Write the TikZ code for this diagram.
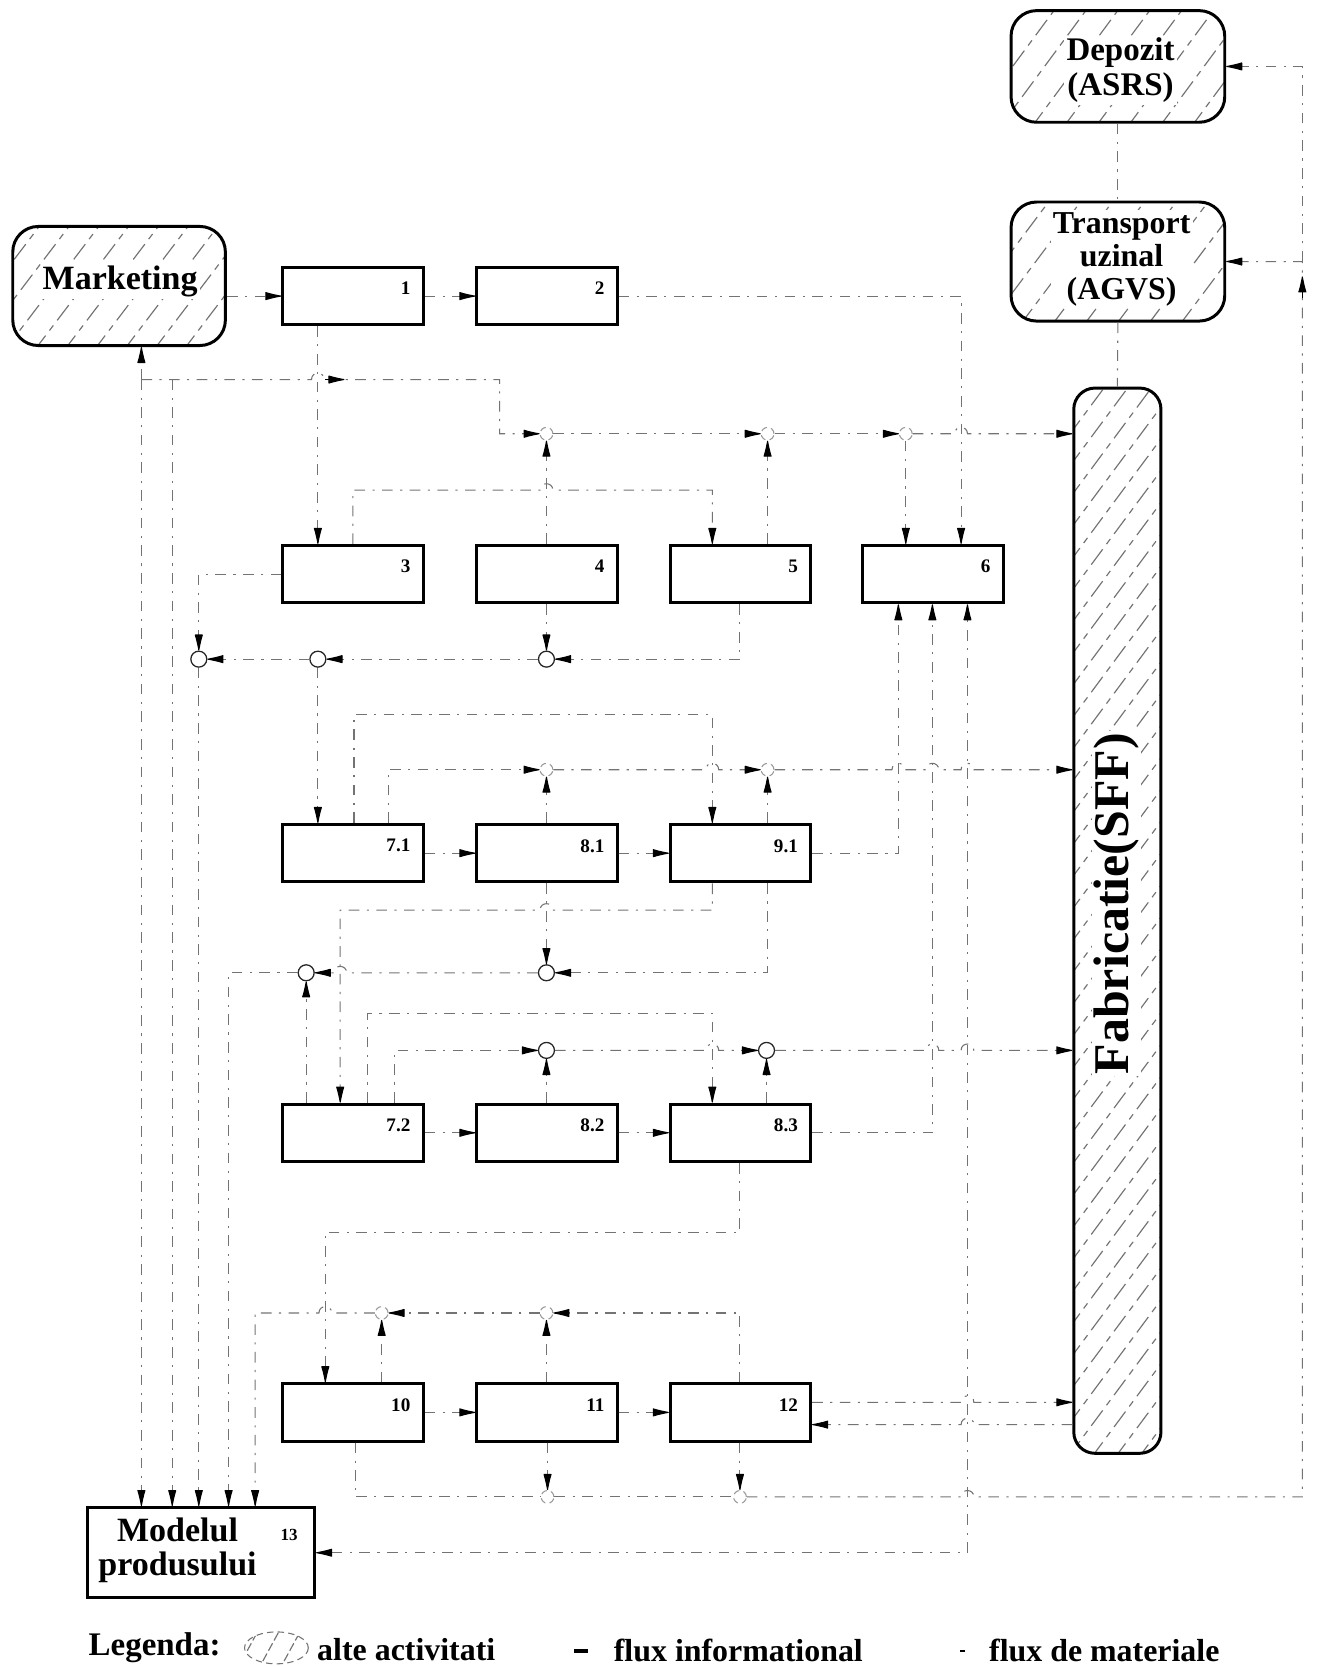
\documentclass[tikz,border=0pt]{standalone}
\usepackage{fontspec}
\setmainfont{Liberation Serif}
\usetikzlibrary{arrows.meta}
\begin{document}
\begin{tikzpicture}[x=0.5pt,y=-0.5pt,
  box/.style={draw, line width=1.4pt, minimum width=66pt, minimum height=27pt, inner sep=0pt,
              label={[num]north east:#1}},
  num/.style={font=\fontsize{9}{10}\selectfont\bfseries, anchor=north east, inner sep=0pt, xshift=-6.5pt, yshift=-7.5pt},
  other/.style={draw, line width=1.4pt, rounded corners=12pt, inner sep=0pt},
  bigtxt/.style={font=\fontsize{16}{16}\selectfont\bfseries},
  fl/.style={draw=black!55, line width=0.5pt, dash pattern=on 5pt off 3.5pt on 1pt off 3.5pt},
  tip/.style={-{Latex[length=9pt,width=4pt,round,color=black]}},
  mk/.style={draw=black, line width=0.5pt, -{Latex[length=9pt,width=4pt,round]}},
  hatch/.style={draw=black!55, line width=0.55pt, dash pattern=on 9pt off 3pt on 3pt off 3pt},
  jn/.style={circle, draw=black!85, line width=0.6pt, fill=white, minimum size=7.5pt, inner sep=0pt},
  jw/.style={circle, draw=black!40, line width=0.5pt, densely dashed, fill=white, minimum size=6pt, inner sep=0pt},
  hopr/.style args={#1/#2}{insert path={-- (#1-6,#2) .. controls (#1-6,#2-8) and (#1+6,#2-8) .. (#1+6,#2)}},
  hopl/.style args={#1/#2}{insert path={-- (#1+6,#2) .. controls (#1+6,#2-8) and (#1-6,#2-8) .. (#1-6,#2)}},
]
\useasboundingbox (0,0) rectangle (1242,1568);

% ---------- hatching of the other activities ----------
\begin{scope}
  \clip[rounded corners=12pt] (12,213) rectangle (212,325);
  \foreach \x in {-80,-52,...,230} \draw[hatch] (\x,330) -- ++(95,-125);
\end{scope}
\begin{scope}
  \clip[rounded corners=12pt] (951,10) rectangle (1152,115);
  \foreach \x in {880,910,...,1160} \draw[hatch] (\x,120) -- ++(85,-115);
\end{scope}
\begin{scope}
  \clip[rounded corners=12pt] (951,190) rectangle (1152,302);
  \foreach \x in {870,900,...,1160} \draw[hatch] (\x,305) -- ++(90,-120);
\end{scope}
\begin{scope}
  \clip[rounded corners=10pt] (1010,365) rectangle (1092,1367);
  \foreach \y in {380,410,...,1500} \draw[hatch] (1005,\y) -- ++(95,-128);
\end{scope}

% ---------- other activities ----------
\node[other, minimum width=100pt, minimum height=56pt] (mkt) at (112,269) {};
\node[other, minimum width=100.5pt, minimum height=52.5pt] (dep) at (1051.5,62.5) {};
\node[other, minimum width=100.5pt, minimum height=56pt] (agv) at (1051.5,246) {};
\node[other, rounded corners=10pt, minimum width=41pt, minimum height=501pt] (sff) at (1051,866) {};

\node[bigtxt, fill=white, inner sep=1pt] (tmkt) at (113,265) {Marketing};
\node[font=\fontsize{15.5}{16.5}\selectfont\bfseries, align=center, fill=white, inner sep=1pt] (tdep) at (1054,66) {Depozit\\(ASRS)};
\node[font=\fontsize{15}{15.5}\selectfont\bfseries, align=center, fill=white, inner sep=1pt] (tagv) at (1055,244) {Transport\\uzinal\\(AGVS)};
\node[rotate=90, font=\fontsize{23.5}{24}\selectfont\bfseries, fill=white, inner sep=1pt] (tsff) at (1050,850) {Fabricatie(SFF)};

% ---------- activity boxes ----------
\node[box=1] (b1) at (332,278.5) {};
\node[box=2] (b2) at (514.5,278.5) {};
\node[box=3] (b3) at (332,540) {};
\node[box=4] (b4) at (514.5,540) {};
\node[box=5] (b5) at (696.5,540) {};
\node[box=6] (b6) at (877.5,540) {};
\node[box=7.1] (b71) at (332,802.5) {};
\node[box=8.1] (b81) at (514.5,802.5) {};
\node[box=9.1] (b91) at (696.5,802.5) {};
\node[box=7.2] (b72) at (332,1065.5) {};
\node[box=8.2] (b82) at (514.5,1065.5) {};
\node[box=8.3] (b83) at (696.5,1065.5) {};
\node[box=10] (b10) at (332,1328.5) {};
\node[box=11] (b11) at (514.5,1328.5) {};
\node[box=12] (b12) at (696.5,1328.5) {};
\node[draw, line width=1.4pt, minimum width=107pt, minimum height=42.5pt, inner sep=0pt] (b13) at (189,1460.5) {};
\node[align=center, bigtxt] (t13) at (167,1458) {Modelul\\produsului};
\node[font=\fontsize{8}{9}\selectfont\bfseries] (n13) at (272,1444) {13};

% ---------- junction circles ----------
\node[jn] (ja1) at (187,620) {};
\node[jn] (ja2) at (299,620) {};
\node[jn] (ja3) at (514,620) {};
\node[jw] (jb1) at (514,408) {};
\node[jw] (jb2) at (722,408) {};
\node[jw] (jb3) at (852,408) {};
\node[jw] (jc1) at (514,724) {};
\node[jw] (jc2) at (722,724) {};
\node[jn] (jd1) at (288,915) {};
\node[jn] (jd2) at (514,915) {};
\node[jn] (je1) at (514,988) {};
\node[jn] (je2) at (721,988) {};
\node[jw] (jf1) at (359,1235) {};
\node[jw] (jf2) at (514,1235) {};
\node[jw] (jg1) at (515,1408) {};
\node[jw] (jg2) at (696,1408) {};

% ---------- top rows ----------
\draw[fl,tip] (mkt.east |- b1.west) -- (b1.west);
\draw[fl,tip] (b1.east) -- (b2.west);
\draw[fl,tip] (b2.east) -- (904,278.5) -- (904,0 |- b6.north);
\draw[fl,tip] (133,357) -- (133,0 |- mkt.south);
\draw[fl,tip] (133,357) -- (133,0 |- b13.north);
\draw[fl,tip] (162,357) -- (162,0 |- b13.north);
\draw[fl,tip] (133,357) [hopr=299/357] -- (470,357) -- (470,408) -- (jb1.west);
\draw[mk] (306,357) -- (324,357);
\draw[fl,tip] (jb1.east) -- (jb2.west);
\draw[fl,tip] (jb2.east) -- (jb3.west);
\draw[fl,tip] (jb3.east) [hopr=904/408] -- (sff.west |- jb3.east);
\draw[fl,tip] (514,0 |- b4.north) -- (jb1.south);
\draw[fl,tip] (722,0 |- b5.north) -- (jb2.south);
\draw[fl,tip] (jb3.south) -- (852,0 |- b6.north);
\draw[fl,tip] (299,0 |- b1.south) -- (299,0 |- b3.north);
\draw[fl,tip] (b3.north) -- (332,461) [hopr=514/461] -- (670,461) -- (670,0 |- b5.north);

% ---------- below row 3-6 ----------
\draw[fl,tip] (b3.west) -- (187,540) -- (ja1.north);
\draw[fl,tip] (696,0 |- b5.south) -- (696,620) -- (ja3.east);
\draw[fl,tip] (514,0 |- b4.south) -- (ja3.north);
\draw[fl,tip] (ja3.west) -- (ja2.east);
\draw[fl,tip] (ja2.west) -- (ja1.east);
\draw[fl,tip] (ja2.south) -- (299,0 |- b71.north);
\draw[fl,tip] (ja1.south) -- (187,0 |- b13.north);

% ---------- row 7.1 - 9.1 ----------
\draw[fl,tip] (b71.east) -- (b81.west);
\draw[fl,tip] (b81.east) -- (b91.west);
\draw[fl,tip] (333,0 |- b71.north) -- (333,672) -- (670,672) -- (670,0 |- b91.north);
\draw[fl,tip] (365,0 |- b71.north) -- (365,724) -- (jc1.west);
\draw[fl,tip] (jc1.east) [hopr=670/724] -- (jc2.west);
\draw[fl,tip] (jc2.east) [hopr=845/724] [hopr=877/724] [hopr=910/724] -- (sff.west |- jc2.east);
\draw[fl,tip] (514,0 |- b81.north) -- (jc1.south);
\draw[fl,tip] (722,0 |- b91.north) -- (jc2.south);

% ---------- feeds of box 6 and of the model ----------
\draw[fl,tip] (b91.east) -- (845,802.5) -- (845,0 |- b6.south);
\draw[fl,tip] (b83.east) -- (877,1065.5) -- (877,0 |- b6.south);
\draw[fl,{Latex[length=9pt,width=4pt,round,color=black]}-{Latex[length=9pt,width=4pt,round,color=black]}]
  (b13.east) -- (910,0 |- b13.east) -- (910,0 |- b6.south);

% ---------- between rows 7.1 and 7.2 ----------
\draw[fl,tip] (670,0 |- b91.south) -- (670,856) [hopl=514/856] -- (320,856) -- (320,0 |- b72.north);
\draw[fl,tip] (514,0 |- b81.south) -- (jd2.north);
\draw[fl,tip] (722,0 |- b91.south) -- (722,915) -- (jd2.east);
\draw[fl,tip] (jd2.west) [hopl=320/915] -- (jd1.east);
\draw[fl,tip] (288,0 |- b72.north) -- (jd1.south);
\draw[fl,tip] (jd1.west) -- (215,915) -- (215,0 |- b13.north);

% ---------- row 7.2 - 8.3 ----------
\draw[fl,tip] (b72.east) -- (b82.west);
\draw[fl,tip] (b82.east) -- (b83.west);
\draw[fl,tip] (346,0 |- b72.north) -- (346,953) -- (670,953) -- (670,0 |- b83.north);
\draw[fl,tip] (371,0 |- b72.north) -- (371,988) -- (je1.west);
\draw[fl,tip] (je1.east) [hopr=670/988] -- (je2.west);
\draw[fl,tip] (je2.east) [hopr=877/988] [hopr=910/988] -- (sff.west |- je2.east);
\draw[fl,tip] (514,0 |- b82.north) -- (je1.south);
\draw[fl,tip] (721,0 |- b83.north) -- (je2.south);

% ---------- between rows 7.2 and 10 ----------
\draw[fl,tip] (696,0 |- b83.south) -- (696,1159) -- (306,1159) -- (306,0 |- b10.north);
\draw[fl,tip] (696,0 |- b12.north) -- (696,1235) -- (jf2.east);
\draw[fl,tip] (jf2.west) -- (jf1.east);
\draw[fl,tip] (jf1.west) [hopl=306/1235] -- (240,1235) -- (240,0 |- b13.north);
\draw[fl,tip] (514,0 |- b11.north) -- (jf2.south);
\draw[fl,tip] (359,0 |- b10.north) -- (jf1.south);

% ---------- row 10 - 12 ----------
\draw[fl,tip] (b10.east) -- (b11.west);
\draw[fl,tip] (b11.east) -- (b12.west);
\draw[fl] (334,0 |- b10.south) -- (334,1408) -- (jg1.west);
\draw[fl,tip] (515,0 |- b11.south) -- (jg1.north);
\draw[fl,tip] (696,0 |- b12.south) -- (jg2.north);
\draw[fl] (jg1.east) -- (jg2.west);
\draw[fl,tip] (jg2.east) [hopr=910/1408] -- (1225,1408) -- (1225,0 |- agv.east) -- (agv.east);
\draw[fl,tip] (1225,0 |- agv.east) -- (1225,0 |- dep.east) -- (dep.east);
\draw[mk] (1225,280) -- (1225,260);
\draw[fl,tip] (b12.east |- 0,1319) [hopr=910/1319] -- (sff.west |- 0,1319);
\draw[fl,tip] (sff.west |- 0,1340) [hopl=910/1340] -- (b12.east |- 0,1340);

% ---------- material flow ----------
\draw[fl] (dep.south) -- (agv.north);
\draw[fl] (agv.south) -- (sff.north);

% ---------- legend ----------
\node[anchor=west, font=\fontsize{15.5}{16}\selectfont\bfseries, inner sep=0pt] (lg) at (83,1550) {Legenda:};
\begin{scope}
  \clip (260,1550) ellipse [x radius=30, y radius=15];
  \foreach \x in {222,242,262,282} \draw[hatch, dash pattern=on 4pt off 1.5pt] (\x,1572) -- ++(24,-44);
\end{scope}
\draw[black!55, line width=0.5pt, dash pattern=on 3pt off 2pt] (260,1550) ellipse [x radius=30, y radius=15];
\node[anchor=west, font=\fontsize{15}{16}\selectfont\bfseries, inner sep=0pt] (lg1) at (298,1552) {alte activitati};
\draw[line width=1.6pt] (540,1553) -- (553,1553);
\node[anchor=west, font=\fontsize{15}{16}\selectfont\bfseries, inner sep=0pt] (lg2) at (577,1552) {flux informational};
\draw[line width=0.9pt] (903,1553) -- (908,1553);
\node[anchor=west, font=\fontsize{15}{16}\selectfont\bfseries, inner sep=0pt] (lg3) at (930,1552) {flux de materiale};
\end{tikzpicture}
\end{document}
